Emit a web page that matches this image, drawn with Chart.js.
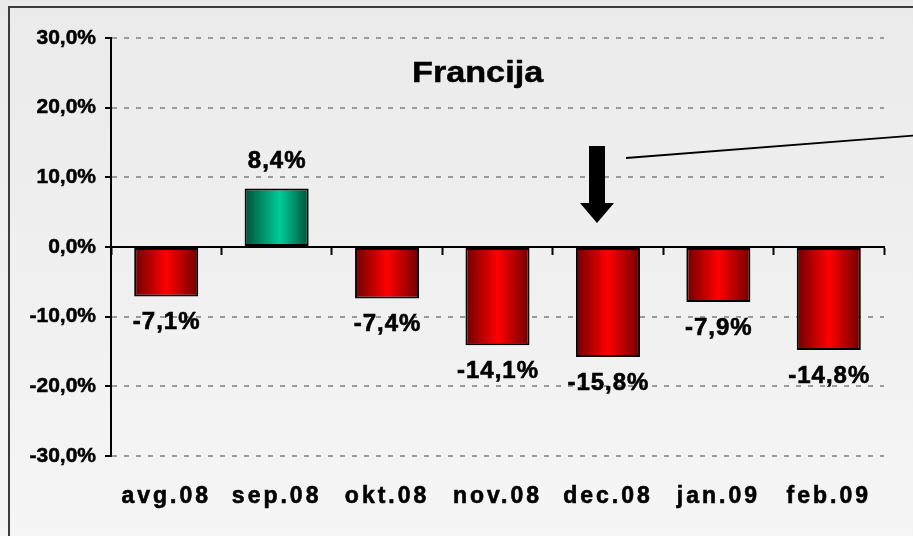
<!DOCTYPE html>
<html>
<head>
<meta charset="utf-8">
<script src="https://cdn.jsdelivr.net/npm/chart.js@4.4.1/dist/chart.umd.min.js"></script>
<style>
  html, body { margin: 0; padding: 0; background: #efefef; }
  #wrap { width: 913px; height: 536px; }
</style>
</head>
<body>
<div id="wrap"><canvas id="chart" width="913" height="536"></canvas></div>
<script>
// data
const months = ['avg.08', 'sep.08', 'okt.08', 'nov.08', 'dec.08', 'jan.09', 'feb.09'];
const changes = [-7.1, 8.4, -7.4, -14.1, -15.8, -7.9, -14.8];
const yTicks = [-30, -20, -10, 0, 10, 20, 30];
const chartTitle = 'Francija';

const FONT = "'Liberation Sans', Arial, sans-serif";
const BAR_PCT = 0.58;

// 8.4 -> "8,4%"
const fmt = (v) => v.toFixed(1).replace('.', ',') + '%';

// horizontal gradient per bar, dark edges, bright middle
const barFill = (ctx) => {
    const chart = ctx.chart;
    const xs = chart.scales.x;
    const neg = changes[ctx.dataIndex] < 0;
    if (!chart.chartArea || !xs) return neg ? '#e00000' : '#00b080';
    const cx = xs.getPixelForValue(ctx.dataIndex);
    const half = xs.width / months.length * BAR_PCT / 2;
    const g = chart.ctx.createLinearGradient(cx - half, 0, cx + half, 0);
    if (neg) {
        g.addColorStop(0, '#6e0000');
        g.addColorStop(0.5, '#ff0000');
        g.addColorStop(1, '#6e0000');
    } else {
        g.addColorStop(0, '#005238');
        g.addColorStop(0.55, '#00cc99');
        g.addColorStop(1, '#005238');
    }
    return g;
};

// page background and frame
const backgroundPlugin = {
    id: 'background',
    beforeDraw(chart) {
        const c = chart.ctx;
        const g = c.createLinearGradient(0, 0, 0, chart.height);
        g.addColorStop(0, '#eaeaea');
        g.addColorStop(1, '#f5f5f5');
        c.save();
        c.fillStyle = g;
        c.fillRect(0, 0, chart.width, chart.height);
        c.strokeStyle = '#3c3c3c';
        c.lineWidth = 2;
        c.strokeRect(9, 7, chart.width + 20, chart.height + 20);
        c.restore();
    }
};

// value labels, title, arrow
const labelsPlugin = {
    id: 'valueLabels',
    afterDatasetsDraw(chart) {
        const c = chart.ctx;
        const meta = chart.getDatasetMeta(0);
        c.save();
        c.font = 'bold 24px ' + FONT;
        c.letterSpacing = '1px';
        c.fillStyle = '#000';
        c.strokeStyle = '#000';
        c.lineWidth = 0.6;
        c.textAlign = 'center';
        c.textBaseline = 'middle';
        meta.data.forEach((bar, i) => {
            const v = changes[i];
            const y = v < 0 ? bar.y + 26 : bar.y - 27;
            c.fillText(fmt(v), bar.x + 0.5, y);
            c.strokeText(fmt(v), bar.x + 0.5, y);
        });
        c.restore();
        // month labels (ticks.z = 1) are drawn after this, spaced out
        c.letterSpacing = '3px';
    },
    afterDraw(chart) {
        const c = chart.ctx;
        c.letterSpacing = '0px';
        c.save();
        c.font = 'bold 30px ' + FONT;
        c.fillStyle = '#000';
        c.strokeStyle = '#000';
        c.lineWidth = 0.5;
        c.textAlign = 'left';
        c.textBaseline = 'alphabetic';
        c.translate(412, 82);
        c.scale(1.14, 1);
        c.fillText(chartTitle, 0, 0);
        c.strokeText(chartTitle, 0, 0);
        c.restore();

        c.save();
        c.fillStyle = '#000';
        c.fillRect(589, 146, 16, 57);
        c.beginPath();
        c.moveTo(580, 203);
        c.lineTo(614, 203);
        c.lineTo(597, 223);
        c.closePath();
        c.fill();
        c.beginPath();
        c.moveTo(626, 158);
        c.lineTo(920, 135);
        c.lineWidth = 1.8;
        c.strokeStyle = '#000';
        c.stroke();
        c.restore();
    }
};

new Chart(document.getElementById('chart'), {
    type: 'bar',
    data: {
        labels: months,
        datasets: [{
            data: changes,
            backgroundColor: barFill,
            borderColor: '#000',
            borderWidth: 2,
            borderSkipped: false,
            barPercentage: BAR_PCT,
            categoryPercentage: 1,
        }],
    },
    options: {
        responsive: false,
        animation: false,
        layout: { padding: { top: 38, right: 29, bottom: 0, left: 0 } },
        plugins: {
            legend: { display: false },
            tooltip: { enabled: false },
        },
        scales: {
            // axis line through zero with category ticks
            x: {
                type: 'category',
                position: { y: 0 },
                offset: true,
                grid: {
                    offset: true,
                    drawOnChartArea: false,
                    drawTicks: true,
                    tickLength: 7,
                    tickColor: '#000',
                    tickWidth: 2,
                },
                border: { color: '#000', width: 2 },
                ticks: { display: false },
            },
            // month labels at the bottom
            xl: {
                type: 'category',
                axis: 'x',
                position: 'bottom',
                labels: months,
                offset: true,
                grid: { display: false, drawTicks: false },
                border: { display: false },
                afterFit: (scale) => { scale.height = 80; },
                ticks: {
                    z: 1,
                    padding: 27,
                    autoSkip: false,
                    maxRotation: 0,
                    minRotation: 0,
                    color: '#000',
                    textStrokeColor: '#000',
                    textStrokeWidth: 0.6,
                    font: { family: FONT, size: 23, weight: 'bold' },
                },
            },
            y: {
                min: yTicks[0],
                max: yTicks[yTicks.length - 1],
                afterFit: (scale) => { scale.width = 111; },
                grid: {
                    color: (ctx) => ctx.tick && ctx.tick.value === 0 ? 'rgba(0,0,0,0)' : '#9a9a9a',
                    lineWidth: 2,
                    drawTicks: true,
                    tickLength: 6,
                    tickColor: '#000',
                    tickWidth: 2,
                },
                border: { color: '#000', width: 2, dash: [5, 7] },
                ticks: {
                    stepSize: 10,
                    padding: 9,
                    color: '#000',
                    textStrokeColor: '#000',
                    textStrokeWidth: 0.5,
                    font: { family: FONT, size: 21, weight: 'bold' },
                    callback: (v) => fmt(v),
                },
            },
        },
    },
    plugins: [backgroundPlugin, labelsPlugin],
});
</script>
</body>
</html>
